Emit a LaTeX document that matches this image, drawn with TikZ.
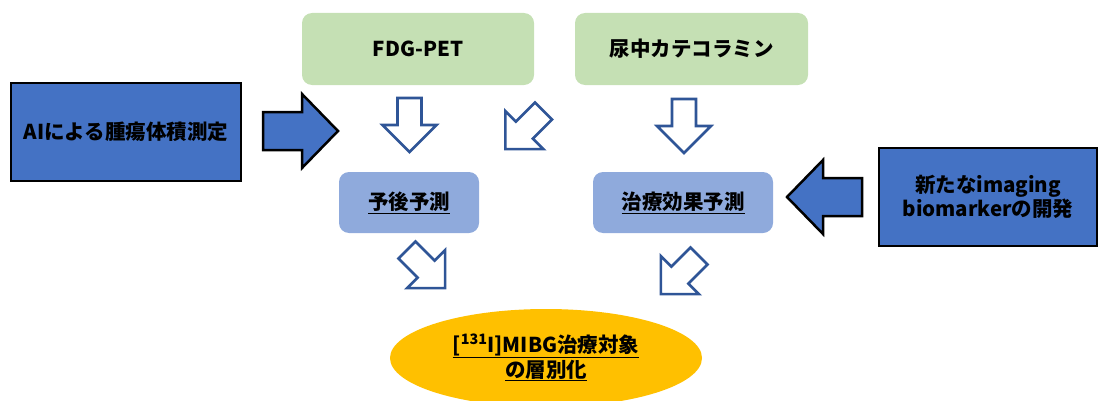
\documentclass[tikz,border=0pt]{standalone}
\usepackage{fontspec}
\usetikzlibrary{shapes.geometric}
\setmainfont{Noto Sans CJK JP}
\definecolor{bluefill}{HTML}{4472C4}
\definecolor{greenfill}{HTML}{C5E0B4}
\definecolor{lightblue}{HTML}{8FAADC}
\definecolor{orangefill}{HTML}{FFC000}
\definecolor{arrline}{HTML}{2F5597}
\tikzset{
  txt/.style={font=\fontsize{20.5}{24}\selectfont\bfseries, text=black, align=center},
  bluebox/.style={txt, draw=black, line width=2.5pt, fill=bluefill, inner sep=0pt},
  greenbox/.style={txt, fill=greenfill, rounded corners=10pt, inner sep=0pt},
  lbbox/.style={txt, fill=lightblue, rounded corners=10pt, inner sep=0pt},
  hollowarr/.pic={\draw[draw=arrline, line width=2.6pt, fill=white, line join=miter]
    (-12,0) -- (-12,-27) -- (-27,-27) -- (0,-54) -- (27,-27) -- (12,-27) -- (12,0) -- cycle;},
  bluearr/.pic={\draw[draw=black, line width=2.5pt, fill=bluefill, line join=miter]
    (0,-19) -- (39,-19) -- (39,-37) -- (75,0) -- (39,37) -- (39,19) -- (0,19) -- cycle;}
}
\begin{document}
\begin{tikzpicture}[x=1pt,y=1pt]
\useasboundingbox (0,0) rectangle (1099,400);
% blue boxes
\node[bluebox, minimum width=230pt, minimum height=98pt] (ai) at (126,268) {AIによる腫瘍体積測定};
\node[bluebox, minimum width=218pt, minimum height=98pt, font=\fontsize{20.5}{23.5}\selectfont\bfseries] (bio) at (988,203) {新たなimaging\\biomarkerの開発};
% green boxes
\node[greenbox, minimum width=232pt, minimum height=72pt] (fdg) at (418,351) {FDG-PET};
\node[greenbox, minimum width=233pt, minimum height=72pt] (cat) at (691.5,351) {尿中カテコラミン};
% light blue boxes
\node[lbbox, minimum width=140pt, minimum height=61pt] (prog) at (409,197.5) {\underline{予後予測}};
\node[lbbox, minimum width=180pt, minimum height=61pt] (eff) at (683,197.5) {\underline{治療効果予測}};
% ellipse
\node[ellipse, fill=orangefill, minimum width=312pt, minimum height=98pt, inner sep=0pt] (mibg) at (546,42) {};
\node[txt, font=\fontsize{20.5}{25}\selectfont\bfseries] (mibgtxt) at (546,42.5) {\underline{[\textsuperscript{131}I]MIBG治療対象}\\\underline{の層別化}};
% block arrows
\pic at (263,269) {bluearr};
\pic[rotate=180] at (862,203) {bluearr};
\pic at (409.5,302) {hollowarr};
\pic at (684,301) {hollowarr};
\pic[rotate=-45] at (543.5,289) {hollowarr};
\pic[rotate=45] at (407,150) {hollowarr};
\pic[rotate=-45] at (699,144) {hollowarr};
\end{tikzpicture}
\end{document}
